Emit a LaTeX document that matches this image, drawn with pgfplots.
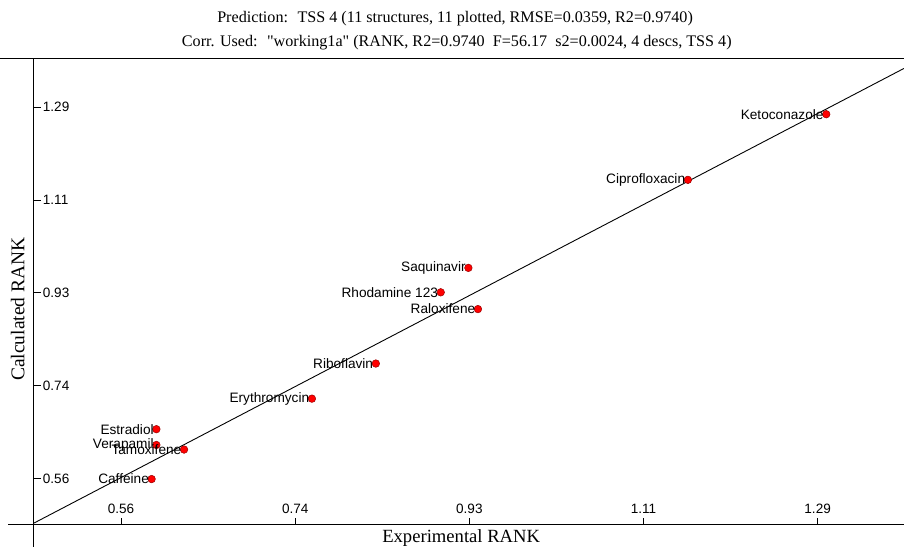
\documentclass[border=0pt]{standalone}
\usepackage{fontspec}
\setmainfont{Liberation Serif}
\newfontfamily\qfont{Liberation Serif}
\newfontfamily\arial{Liberation Sans}
\usepackage{pgfplots}
\usepackage{pgfplotstable}
\pgfplotsset{compat=1.18}
\pgfplotstableread{
x y label
0.597 0.657 Estradiol
0.597 0.626 Verapamil
0.626 0.617 Tamoxifene
0.592 0.559 Caffeine
0.760 0.717 Erythromycin
0.827 0.786 Riboflavin
0.895 0.926 {Rhodamine 123}
0.924 0.974 Saquinavir
0.934 0.893 Raloxifene
1.154 1.147 Ciprofloxacin
1.299 1.276 Ketoconazole
}\datatab
\pgfplotstableread{
x y
0.46875 0.4725
1.3805 1.366
}\linetab
\begin{document}
\begin{tikzpicture}
\begin{axis}[
  scale only axis, width=870bp, height=466bp,
  xmin=0.46875, xmax=1.3805, ymin=0.46875, ymax=1.3845,
  axis lines=left, axis line style={-, line width=1bp, black},
  clip=false,
  tick align=inside, major tick length=7bp,
  tick style={black, line width=0.8bp},
  xtick={0.56,0.7425,0.925,1.1075,1.29}, xticklabels={0.56,0.74,0.93,1.11,1.29},
  ytick={0.56,0.7425,0.925,1.1075,1.29}, yticklabels={0.56,0.74,0.93,1.11,1.29},
  /pgf/number format/assume math mode=true,
  xticklabel style={anchor=base, yshift=11bp, font=\arial\fontsize{13.6}{16}\selectfont},
  yticklabel style={anchor=west, xshift=5.4bp, font=\arial\fontsize{13.6}{16}\selectfont},
  xlabel={Experimental RANK},
  xlabel style={at={(rel axis cs:0.491,0)}, anchor=base, yshift=-18bp, font=\fontsize{18.7}{20}\selectfont},
  ylabel={Calculated RANK},
  ylabel style={at={(rel axis cs:-0.011,0.463)}, anchor=base, font=\fontsize{19.5}{22}\selectfont},
]
\coordinate (ll) at (rel axis cs:0,0);
\coordinate (ur) at (rel axis cs:1,1);
\draw[line width=1bp] (rel axis cs:0,0) -- ++(-26bp,0bp);
\draw[line width=1bp] (rel axis cs:0,0) -- ++(0bp,-22bp);
\draw[line width=1bp] (rel axis cs:0,1) ++(-34bp,0bp) -- (rel axis cs:1,1);
\node[anchor=base, yshift=36bp, font=\fontsize{16.2}{20}\selectfont] at (rel axis cs:0.484,1)
  {Prediction:~ TSS 4 (11 structures, 11 plotted, RMSE=0.0359, R2=0.9740)};
\node[anchor=base, yshift=12.5bp, font=\fontsize{16.2}{20}\selectfont] at (rel axis cs:0.486,1)
  {Corr. Used:~ {\qfont"}working1a{\qfont"} (RANK, R2=0.9740~ F=56.17~ s2=0.0024, 4 descs, TSS 4)};
\addplot[black, line width=0.9bp] table[x=x,y=y] {\linetab};
\addplot[only marks, mark=*, mark size=3.8bp,
  mark options={fill=red, draw=red!60!black, line width=0.5bp},
  nodes near coords, point meta=explicit symbolic,
  nodes near coords style={anchor=east, text=black, font=\arial\fontsize{13.7}{15}\selectfont, inner sep=2.5bp}]
  table[x=x, y=y, meta=label] {\datatab};
\end{axis}
\pgfresetboundingbox
\path ([xshift=-34bp,yshift=-22bp]ll) rectangle ([yshift=59bp]ur);
\end{tikzpicture}
\end{document}
